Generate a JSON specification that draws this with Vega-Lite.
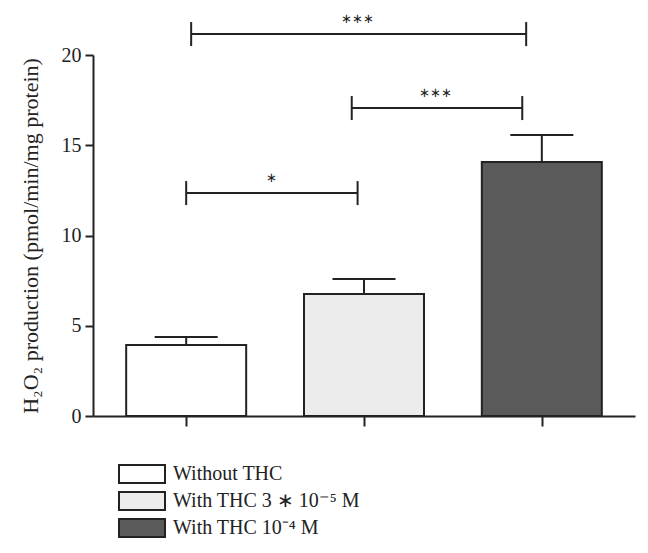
{
  "$schema": "https://vega.github.io/schema/vega-lite/v6.json",
  "width": 542,
  "height": 361,
  "autosize": {"type": "none"},
  "padding": {"left": 93, "top": 55, "right": 13, "bottom": 137},
  "background": "white",
  "config": {"view": {"stroke": null}, "font": "Liberation Serif"},
  "datasets": {
    "bars": [
      {"group": "Without THC", "pos": 0, "mean": 3.93, "upper": 4.38},
      {"group": "With THC 3 ∗ 10⁻⁵ M", "pos": 1, "mean": 6.76, "upper": 7.59},
      {"group": "With THC 10⁻⁴ M", "pos": 2, "mean": 14.07, "upper": 15.57}
    ],
    "brackets": [
      {"x1": 0, "x2": 0.964, "xm": 0.48, "y": 12.35, "label": "∗"},
      {"x1": 0.931, "x2": 1.89, "xm": 1.40, "y": 17.06, "label": "∗∗∗"},
      {"x1": 0.028, "x2": 1.912, "xm": 0.964, "y": 21.16, "label": "∗∗∗"}
    ]
  },
  "layer": [
    {
      "data": {"name": "bars"},
      "mark": {"type": "bar", "orient": "vertical", "width": 120, "stroke": "#222", "strokeWidth": 2},
      "encoding": {
        "x": {
          "field": "pos", "type": "quantitative",
          "scale": {"domain": [-0.4959, 2.4959], "nice": false, "zero": false},
          "axis": {"values": [0, 1, 2], "labels": false, "title": null, "grid": false, "tickSize": 10, "tickWidth": 2, "tickColor": "#222", "domainColor": "#222", "domainWidth": 2}
        },
        "y": {
          "field": "mean", "type": "quantitative",
          "scale": {"domain": [0, 20], "nice": false},
          "axis": {"values": [0, 5, 10, 15, 20], "title": "H₂O₂ production (pmol/min/mg protein)", "grid": false, "tickSize": 8, "tickWidth": 2, "tickColor": "#222", "domainColor": "#222", "domainWidth": 2, "labelFontSize": 20, "labelColor": "#222", "labelPadding": 4, "titleFontSize": 22, "titleFontWeight": "normal", "titleColor": "#222", "titlePadding": 19}
        },
        "fill": {
          "field": "group", "type": "nominal",
          "scale": {"domain": ["Without THC", "With THC 3 ∗ 10⁻⁵ M", "With THC 10⁻⁴ M"], "range": ["#ffffff", "#ececec", "#5a5a5a"]},
          "legend": {
            "orient": "none", "legendX": 39, "legendY": 409, "direction": "vertical", "title": null, "padding": 0,
            "symbolType": "M-2.556,-1H2.556V1H-2.556Z", "symbolSize": 324, "symbolStrokeColor": "#222", "symbolStrokeWidth": 2,
            "labelFont": "Liberation Serif", "labelFontSize": 20, "labelColor": "#222", "labelOffset": 21, "rowPadding": 1, "labelLimit": 400
          }
        }
      }
    },
    {
      "data": {"name": "bars"},
      "mark": {"type": "rule", "stroke": "#222", "strokeWidth": 2},
      "encoding": {
        "x": {"field": "pos", "type": "quantitative"},
        "y": {"field": "mean", "type": "quantitative"},
        "y2": {"field": "upper"}
      }
    },
    {
      "data": {"name": "bars"},
      "mark": {"type": "tick", "orient": "horizontal", "size": 63, "thickness": 2, "color": "#222", "opacity": 1},
      "encoding": {
        "x": {"field": "pos", "type": "quantitative"},
        "y": {"field": "upper", "type": "quantitative"}
      }
    },
    {
      "data": {"name": "brackets"},
      "mark": {"type": "rule", "stroke": "#222", "strokeWidth": 2},
      "encoding": {
        "x": {"field": "x1", "type": "quantitative"},
        "x2": {"field": "x2"},
        "y": {"field": "y", "type": "quantitative"}
      }
    },
    {
      "data": {"name": "brackets"},
      "transform": [{"fold": ["x1", "x2"], "as": ["end", "xe"]}],
      "mark": {"type": "tick", "orient": "vertical", "size": 24, "thickness": 2, "color": "#222", "opacity": 1},
      "encoding": {
        "x": {"field": "xe", "type": "quantitative"},
        "y": {"field": "y", "type": "quantitative"}
      }
    },
    {
      "data": {"name": "brackets"},
      "mark": {"type": "text", "fontSize": 13, "color": "#222", "baseline": "middle", "dy": -15},
      "encoding": {
        "x": {"field": "xm", "type": "quantitative"},
        "y": {"field": "y", "type": "quantitative"},
        "text": {"field": "label"}
      }
    }
  ]
}
